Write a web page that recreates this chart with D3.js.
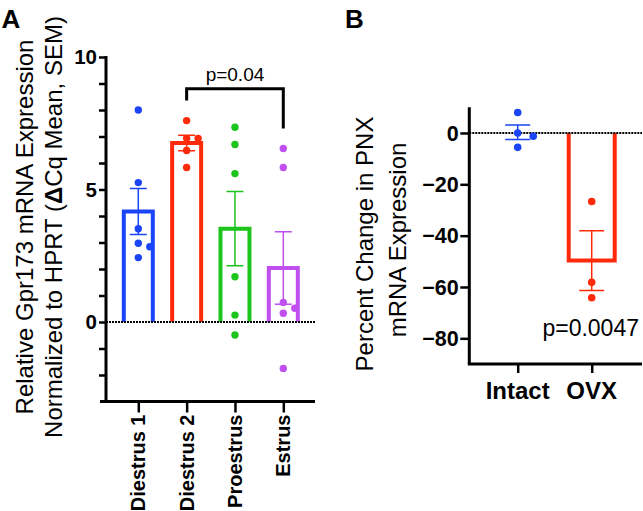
<!DOCTYPE html>
<html><head><meta charset="utf-8">
<script src="https://cdn.jsdelivr.net/npm/d3@7"></script>
<style>body{margin:0;background:#fff}svg{display:block}text{font-family:"Liberation Sans",Arial,sans-serif;fill:#000}</style>
</head><body><svg id="c" width="643" height="511"></svg>
<script>
// ---------- Panel A data ----------
const catsA = ["Diestrus 1", "Diestrus 2", "Proestrus", "Estrus"];
const colorsA = ["#1a44f5", "#ff2a0a", "#1cc41c", "#c04ff0"];
const pointsA = [
  [8.0, 5.26, 3.52, 2.97, 2.84, 2.43],
  [7.6, 6.93, 6.93, 6.47, 5.83],
  [7.35, 6.7, 5.6, 1.71, 0.26, -0.49],
  [6.55, 5.83, 0.74, 0.52, 0.33, -1.75]
];
const labeledTicksA = [0, 5, 10];
const minorTicksA = [-2, -1, 0, 1, 2, 3, 4, 5, 6, 7, 8, 9, 10];
const compA = { from: "Diestrus 2", to: "Estrus", level: 8.8, label: "p=0.04" };
const titleA = ["Relative Gpr173 mRNA Expression", "Normalized to HPRT (", "\u0394", "Cq Mean, SEM)"];

// ---------- Panel B data ----------
const catsB = ["Intact", "OVX"];
const colorsB = ["#1a44f5", "#ff2a0a"];
const pointsB = [
  [8.0, 0.0, -1.3, -5.6],
  [-26.7, -58.2, -64.2]
];
const showBarB = [false, true];
const ticksB = [0, -20, -40, -60, -80];
const pLabelB = { text: "p=0.0047", value: -79 };
const titleB = ["Percent Change in PNX", "mRNA Expression"];

const svg = d3.select("#c");
const mean = a => d3.mean(a);
const sem = a => d3.deviation(a) / Math.sqrt(a.length);
const fmt = d3.format("d");

function dodge(vals, y, d, minD) {
  const placed = [];
  return vals.map(v => {
    const py = y(v);
    for (const off of [0, d, -d, 2 * d, -2 * d]) {
      if (placed.every(p => Math.abs(p.y - py) >= minD || Math.abs(p.x - off) >= minD)) {
        placed.push({ x: off, y: py });
        return { v, off };
      }
    }
    placed.push({ x: 0, y: py });
    return { v, off: 0 };
  });
}

function styleAxis(g, w) {
  g.select(".domain").remove();
  g.selectAll(".tick line").attr("stroke", "#000").attr("stroke-width", w);
}
function yLabels(vals, scale, xRight, fs) {
  svg.append("g").selectAll("text").data(vals).join("text")
    .attr("x", xRight).attr("y", d => scale(d)).attr("dy", "0.36em").attr("text-anchor", "end")
    .style("font-size", fs + "px").style("font-weight", "bold").text(d => fmt(d));
}

// ================= Panel A =================
const yA = d3.scaleLinear().domain([-3, 10]).range([401.5, 57]);
const xA = d3.scalePoint().domain(catsA).range([138.3, 283.3]);
const axXA = 106;

const gyA = svg.append("g").attr("transform", `translate(${axXA},0)`)
  .call(d3.axisLeft(yA).tickValues(minorTicksA).tickSize(7).tickSizeOuter(0).tickFormat(""));
styleAxis(gyA, 2.5);
yLabels(labeledTicksA, yA, axXA - 9, 20.5);
svg.append("line").attr("x1", axXA).attr("x2", axXA).attr("y1", yA(10) - 1).attr("y2", yA(-3))
  .attr("stroke", "#000").attr("stroke-width", 3);

const gxA = svg.append("g").attr("transform", `translate(0,${yA(-3)})`)
  .call(d3.axisBottom(xA).tickSize(11).tickSizeOuter(0).tickFormat(""));
styleAxis(gxA, 2.5);
svg.append("line").attr("x1", 100).attr("x2", 315).attr("y1", yA(-3)).attr("y2", yA(-3))
  .attr("stroke", "#000").attr("stroke-width", 3);
svg.append("g").selectAll("text").data(catsA).join("text")
  .attr("transform", d => `translate(${xA(d)},${yA(-3) + 13}) rotate(-90)`)
  .attr("text-anchor", "end").attr("dy", "0.35em")
  .style("font-size", "20px").style("font-weight", "bold").text(d => d);

const bwA = 29;
catsA.forEach((c, i) => {
  const m = mean(pointsA[i]), s = sem(pointsA[i]), cx = xA(c);
  svg.append("path")
    .attr("d", `M${cx - bwA / 2},${yA(0)}V${yA(m)}H${cx + bwA / 2}V${yA(0)}`)
    .attr("fill", "none").attr("stroke", colorsA[i]).attr("stroke-width", 4);
  const cap = 8.5;
  svg.append("path")
    .attr("d", `M${cx},${yA(m + s)}V${yA(m - s)}M${cx - cap},${yA(m + s)}H${cx + cap}M${cx - cap},${yA(m - s)}H${cx + cap}`)
    .attr("fill", "none").attr("stroke", colorsA[i]).attr("stroke-width", 1.5);
});
svg.append("line").attr("x1", axXA).attr("x2", 315).attr("y1", yA(0)).attr("y2", yA(0))
  .attr("stroke", "#000").attr("stroke-width", 2).attr("stroke-dasharray", "2,1");
catsA.forEach((c, i) => {
  svg.append("g").selectAll("circle").data(dodge(pointsA[i], yA, 11.5, 7.5)).join("circle")
    .attr("cx", d => xA(c) + d.off).attr("cy", d => yA(d.v)).attr("r", 3.7).attr("fill", colorsA[i]);
});
{
  const i1 = catsA.indexOf(compA.from), i2 = catsA.indexOf(compA.to);
  const yTop = yA(compA.level);
  const y1 = yA(d3.max(pointsA[i1])) - 20, y2 = yA(d3.max(pointsA[i2])) - 20;
  svg.append("path").attr("d", `M${xA(compA.from)},${y1}V${yTop}H${xA(compA.to)}V${y2}`)
    .attr("fill", "none").attr("stroke", "#000").attr("stroke-width", 3);
  svg.append("text").attr("x", (xA(compA.from) + xA(compA.to)) / 2).attr("y", yTop - 7.5)
    .attr("text-anchor", "middle").style("font-size", "19px").text(compA.label);
}
{
  const cy = 227;
  svg.append("text").attr("transform", `translate(33,${cy}) rotate(-90)`).attr("text-anchor", "middle")
    .style("font-size", "24px").text(titleA[0]);
  const t = svg.append("text").attr("transform", `translate(61.5,${cy}) rotate(-90)`).attr("text-anchor", "middle")
    .style("font-size", "24px");
  t.append("tspan").text(titleA[1]);
  t.append("tspan").style("font-weight", "bold").text(titleA[2]);
  t.append("tspan").text(titleA[3]);
}
svg.append("text").attr("x", 1.5).attr("y", 28.3).style("font-size", "26px").style("font-weight", "bold").text("A");

// ================= Panel B =================
const yB = d3.scaleLinear().domain([-90, 10]).range([364, 107.3]);
const xB = d3.scalePoint().domain(catsB).range([517.7, 591.7]);
const axXB = 469.3;

const gyB = svg.append("g").attr("transform", `translate(${axXB},0)`)
  .call(d3.axisLeft(yB).tickValues(ticksB).tickSize(9).tickSizeOuter(0).tickFormat(""));
styleAxis(gyB, 2.5);
yLabels(ticksB, yB, axXB - 10.5, 21.5);
svg.append("line").attr("x1", axXB).attr("x2", axXB).attr("y1", yB(10)).attr("y2", yB(-90))
  .attr("stroke", "#000").attr("stroke-width", 3);

const gxB = svg.append("g").attr("transform", `translate(0,${yB(-90)})`)
  .call(d3.axisBottom(xB).tickSize(9).tickSizeOuter(0).tickFormat(""));
styleAxis(gxB, 2.5);
svg.append("line").attr("x1", axXB - 1.5).attr("x2", 642).attr("y1", yB(-90)).attr("y2", yB(-90))
  .attr("stroke", "#000").attr("stroke-width", 3);
svg.append("g").selectAll("text").data(catsB).join("text")
  .attr("x", d => xB(d)).attr("y", 399).attr("text-anchor", "middle")
  .style("font-size", "24px").style("font-weight", "bold").text(d => d);

const bwB = 46;
catsB.forEach((c, i) => {
  const m = mean(pointsB[i]), s = sem(pointsB[i]), cx = xB(c);
  if (showBarB[i]) {
    svg.append("path")
      .attr("d", `M${cx - bwB / 2},${yB(0)}V${yB(m)}H${cx + bwB / 2}V${yB(0)}`)
      .attr("fill", "none").attr("stroke", colorsB[i]).attr("stroke-width", 4);
  }
  const cap = 12.5;
  svg.append("path")
    .attr("d", `M${cx},${yB(m + s)}V${yB(m - s)}M${cx - cap},${yB(m + s)}H${cx + cap}M${cx - cap},${yB(m - s)}H${cx + cap}`)
    .attr("fill", "none").attr("stroke", colorsB[i]).attr("stroke-width", 1.5);
});
svg.append("line").attr("x1", axXB).attr("x2", 642).attr("y1", yB(0)).attr("y2", yB(0))
  .attr("stroke", "#000").attr("stroke-width", 2).attr("stroke-dasharray", "2,1");
catsB.forEach((c, i) => {
  svg.append("g").selectAll("circle").data(dodge(pointsB[i], yB, 15.5, 8)).join("circle")
    .attr("cx", d => xB(c) + d.off).attr("cy", d => yB(d.v)).attr("r", 3.8).attr("fill", colorsB[i]);
});
svg.append("text").attr("x", 639).attr("y", yB(pLabelB.value)).attr("text-anchor", "end")
  .style("font-size", "23px").text(pLabelB.text);

svg.append("text").attr("transform", `translate(373,244) rotate(-90)`).attr("text-anchor", "middle")
  .style("font-size", "24px").text(titleB[0]);
svg.append("text").attr("transform", `translate(406,240) rotate(-90)`).attr("text-anchor", "middle")
  .style("font-size", "24px").text(titleB[1]);
svg.append("text").attr("x", 345).attr("y", 28.3).style("font-size", "26px").style("font-weight", "bold").text("B");
</script></body></html>
